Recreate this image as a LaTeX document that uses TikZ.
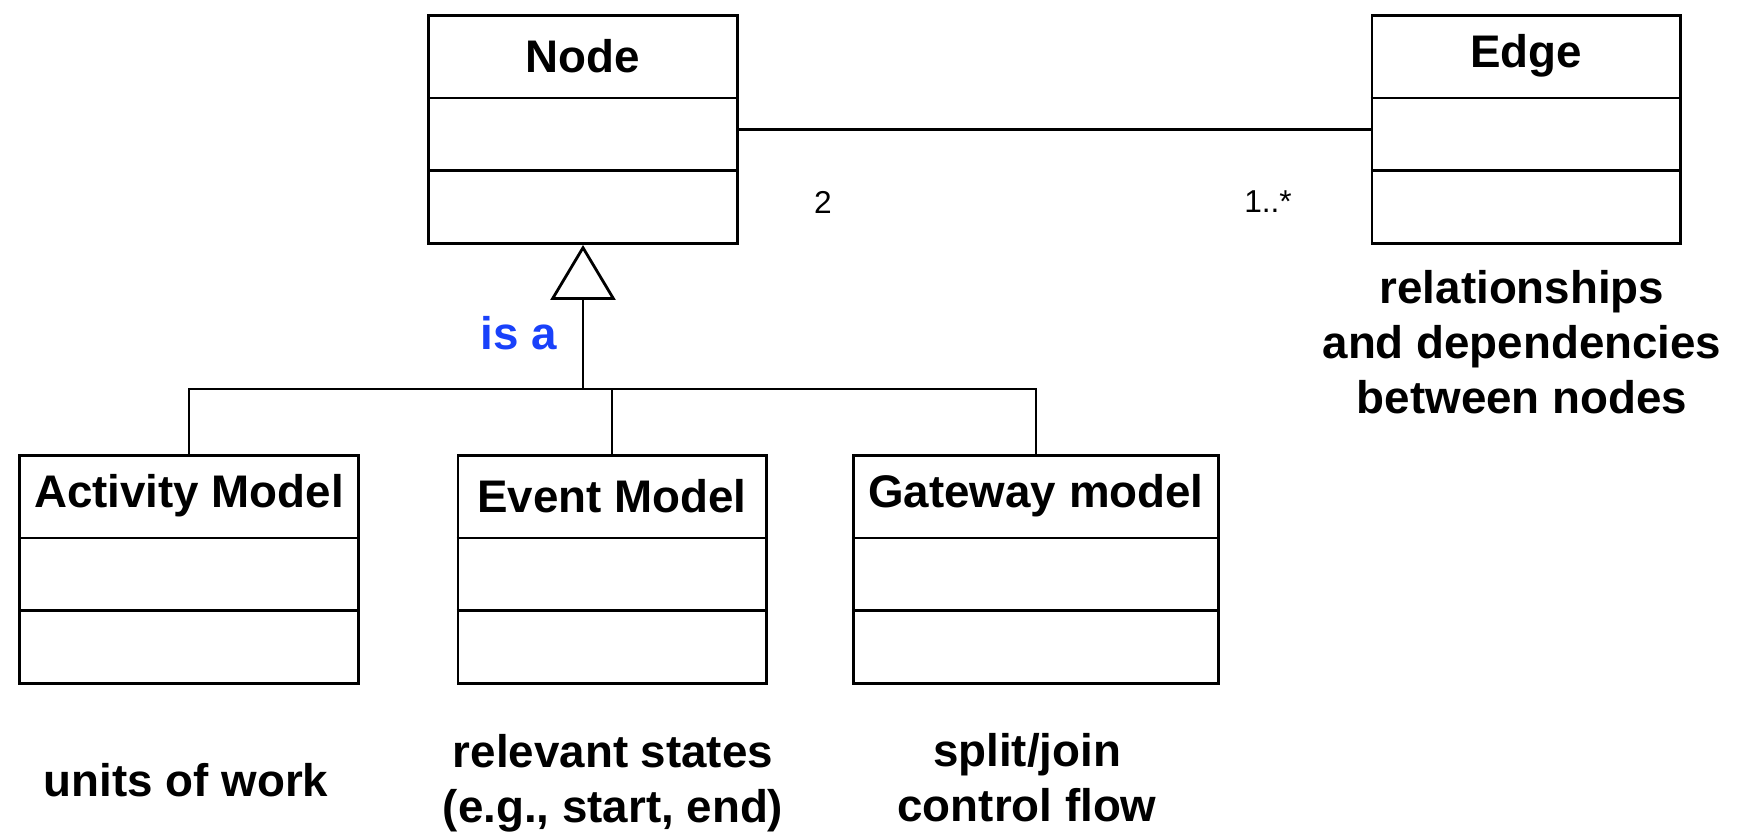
\documentclass[tikz,border=0pt]{standalone}
\usepackage{fontspec}
\setmainfont{Liberation Sans}
\usetikzlibrary{arrows.meta}
\definecolor{isablue}{RGB}{25,65,250}

% class box with name and two empty compartments
\newcommand{\umlclass}[5]{%
  \node[classbox, minimum width=#4cm, anchor=north] (#1) at (#2,#3) {};
  \draw[classline] ([yshift=-8.4mm]#1.north west) -- ([yshift=-8.4mm]#1.north east);
  \draw[classline] ([yshift=-15.6mm]#1.north west) -- ([yshift=-15.6mm]#1.north east);
  \node[classname] (#1-name) at ([yshift=-4.2mm]#1.north) {#5};
}

\begin{document}
\begin{tikzpicture}[x=0.01cm, y=-0.01cm,
    classbox/.style={draw, line width=0.8pt, minimum height=22.8mm, inner sep=0pt},
    classline/.style={line width=0.8pt},
    classname/.style={font=\fontsize{13}{15.6}\selectfont\bfseries},
    note/.style={font=\fontsize{13}{15.6}\selectfont\bfseries, align=center},
    mult/.style={font=\fontsize{9}{11}\selectfont},
    conn/.style={line width=0.6pt}]
  \useasboundingbox (0,0) rectangle (1739,835);

  \umlclass{nodebox}{583}{14}{3.09}{Node}
  \umlclass{edgebox}{1526}{14}{3.08}{Edge}
  \umlclass{actbox}{189}{454}{3.38}{Activity Model}
  \umlclass{evtbox}{612}{454}{3.08}{Event Model}
  \umlclass{gwbox}{1036}{454}{3.65}{Gateway model}

  % association
  \draw[conn] (nodebox.east) -- (edgebox.west);
  \node[mult] (m1) at (823,202) {2};
  \node[mult] (m2) at (1268,202) {1..*};

  % generalization
  \coordinate (bus) at (583,389);
  \draw[conn] (actbox.north) |- (bus) -| (gwbox.north);
  \draw[conn] (evtbox.north) -- (evtbox.north |- bus);
  \draw[conn, -{Triangle[open, length=5.5mm, width=6.5mm, line width=0.8pt]}] (bus) -- (nodebox.south);
  \node[classname, text=isablue] (isa) at (519,333) {is a};

  \node[note] (edgenote) at (1522,342) {relationships\\and dependencies\\between nodes};
  \node[note] (actnote) at (186,780) {units of work};
  \node[note] (evtnote) at (613,783) {relevant states\\(e.g., start, end)};
  \node[note] (gwnote) at (1027,778) {split/join\\control flow};
\end{tikzpicture}
\end{document}
